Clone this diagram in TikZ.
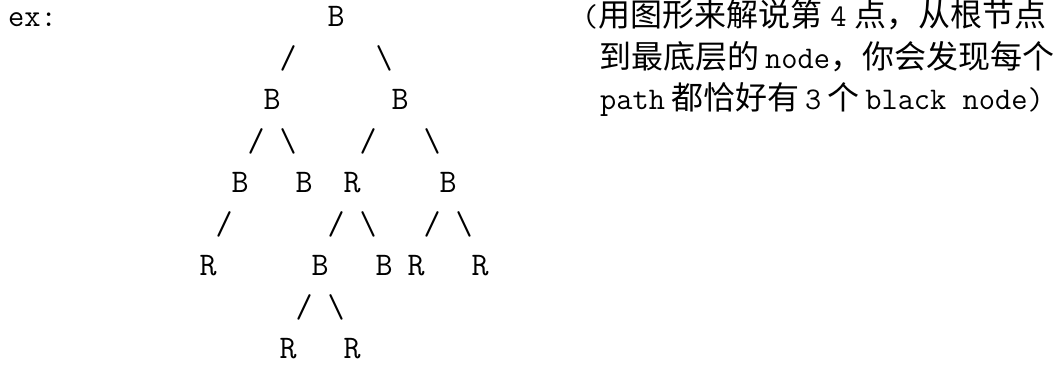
\documentclass[tikz,border=0pt]{standalone}
\usepackage{fontspec}
\newfontfamily\cjkfont{Noto Sans CJK SC}
\newcommand\zhtext[1]{{\cjkfont\fontsize{32}{36}\selectfont #1}}
\newcommand\latmono[1]{{\ttfamily\fontsize{31.5}{36}\selectfont #1}}
\tikzset{
  ch/.style={inner sep=0pt, anchor=base, font=\ttfamily\fontsize{33}{36}\selectfont},
  txt/.style={inner sep=0pt, anchor=base west}
}
\begin{document}
\begin{tikzpicture}[x=1pt,y=-1pt]
\fill[white] (0,0) rectangle (1058,365);
\useasboundingbox (0,0) rectangle (1058,365);
% label
\node[txt] (ex) at (8,26.5) {\latmono{ex:}};
% row 0
\node[ch] (b0) at (336,26.5) {B};
% row 1
\node[ch] (s1a) at (288,68) {/};
\node[ch] (s1b) at (384,68) {\textbackslash};
% row 2
\node[ch] (b2a) at (272,109.5) {B};
\node[ch] (b2b) at (400,109.5) {B};
% row 3
\node[ch] (s3a) at (256,151) {/};
\node[ch] (s3b) at (288,151) {\textbackslash};
\node[ch] (s3c) at (368,151) {/};
\node[ch] (s3d) at (432,151) {\textbackslash};
% row 4
\node[ch] (b4a) at (240,192.5) {B};
\node[ch] (b4b) at (304,192.5) {B};
\node[ch] (r4c) at (352,192.5) {R};
\node[ch] (b4d) at (448,192.5) {B};
% row 5
\node[ch] (s5a) at (224,234) {/};
\node[ch] (s5b) at (336,234) {/};
\node[ch] (s5c) at (368,234) {\textbackslash};
\node[ch] (s5d) at (432,234) {/};
\node[ch] (s5e) at (464,234) {\textbackslash};
% row 6
\node[ch] (r6a) at (208,275.5) {R};
\node[ch] (b6b) at (320,275.5) {B};
\node[ch] (b6c) at (384,275.5) {B};
\node[ch] (r6d) at (416,275.5) {R};
\node[ch] (r6e) at (480,275.5) {R};
% row 7
\node[ch] (s7a) at (304,317) {/};
\node[ch] (s7b) at (336,317) {\textbackslash};
% row 8
\node[ch] (r8a) at (288,358.5) {R};
\node[ch] (r8b) at (352,358.5) {R};
% explanation
\node[txt] (t1) at (582,26.5) {\latmono{(}\zhtext{用图形来解说第}\hspace{8pt}\latmono{4}\hspace{8pt}\zhtext{点，从根节点}};
\node[txt] (t2) at (599,68) {\zhtext{到最底层的}\hspace{6pt}\latmono{node}\zhtext{，你会发现每个}};
\node[txt] (t3) at (600,109.5) {\latmono{path}\hspace{6pt}\zhtext{都恰好有}\hspace{6pt}\latmono{3}\hspace{6pt}\zhtext{个}\hspace{6pt}\latmono{black node)}};
\end{tikzpicture}
\end{document}
